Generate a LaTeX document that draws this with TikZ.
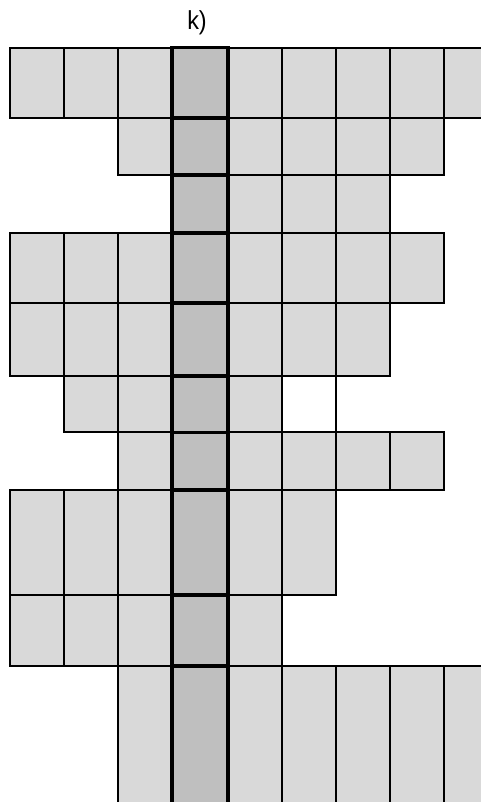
\documentclass[tikz,border=0pt]{standalone}
\usepackage{fontspec}
\setmainfont{Liberation Sans}
\definecolor{cellgray}{HTML}{D9D9D9}
\definecolor{midgray}{HTML}{BFBFBF}
\tikzset{
  cellbox/.style={draw=black, fill=cellgray, line width=2pt, inner sep=0pt, outer sep=0pt},
  blankbox/.style={draw=black, fill=white, line width=2pt, inner sep=0pt, outer sep=0pt},
  midbox/.style={draw=black, fill=midgray, line width=3.6pt, inner sep=0pt, outer sep=0pt},
  titletext/.style={font=\fontsize{26}{30}\selectfont, inner sep=0pt, xscale=0.9},
}
% \mycell{name}{style}{col}{y0}{y1}
\newcommand\mycell[5]{%
  \pgfmathsetmacro\xa{{10,64,118,172,228,282,336,390,444.3,498.6}[#3]}%
  \pgfmathsetmacro\xb{{10,64,118,172,228,282,336,390,444.3,498.6}[#3+1]}%
  \node[#2, minimum width={\xb-\xa}, minimum height={#5-#4}] (#1) at ({(\xa+\xb)/2},{(#4+#5)/2}) {};%
}
% \cellrow{row}{y0}{y1}{first col}{last col}
\newcommand\cellrow[5]{%
  \foreach \c in {#4,...,#5}{%
    \ifnum\c=3\else\mycell{r#1c\c}{cellbox}{\c}{#2}{#3}\fi
  }%
}
\begin{document}
\begin{tikzpicture}[x=1pt,y=-1pt]
  \useasboundingbox (0,0) rectangle (481,802);
  \clip (0,0) rectangle (481,802);
  \node[titletext] (title) at (197,22.5) {k)};
  \cellrow{1}{47.7}{118}{0}{8}
  \cellrow{2}{118}{175}{2}{7}
  \cellrow{3}{175}{232.7}{3}{6}
  \cellrow{4}{232.7}{303}{0}{7}
  \cellrow{5}{303}{375.7}{0}{6}
  \cellrow{6}{375.7}{432.3}{1}{4}
  \mycell{r6c5}{blankbox}{5}{375.7}{432.3}
  \cellrow{7}{432.3}{490}{2}{7}
  \cellrow{8}{490}{595}{0}{5}
  \cellrow{9}{595}{665.7}{0}{4}
  \cellrow{10}{665.7}{840}{2}{8}
  % centre column
  \mycell{r1c3}{midbox}{3}{47.7}{118}
  \mycell{r2c3}{midbox}{3}{118}{175}
  \mycell{r3c3}{midbox}{3}{175}{232.7}
  \mycell{r4c3}{midbox}{3}{232.7}{303}
  \mycell{r5c3}{midbox}{3}{303}{375.7}
  \mycell{r6c3}{midbox}{3}{375.7}{432.3}
  \mycell{r7c3}{midbox}{3}{432.3}{490}
  \mycell{r8c3}{midbox}{3}{490}{595}
  \mycell{r9c3}{midbox}{3}{595}{665.7}
  \mycell{r10c3}{midbox}{3}{665.7}{840}
\end{tikzpicture}
\end{document}
